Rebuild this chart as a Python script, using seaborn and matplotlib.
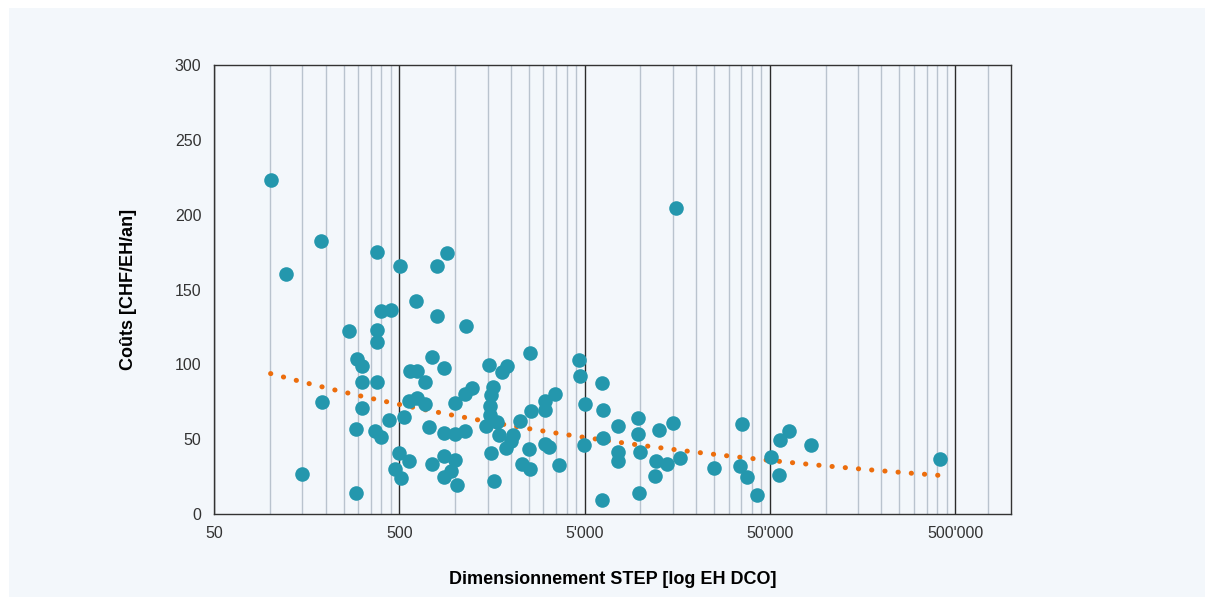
import numpy as np
import pandas as pd
import matplotlib
matplotlib.use("Agg")
import matplotlib.pyplot as plt
import matplotlib.ticker as mticker
from matplotlib.patches import Rectangle
import seaborn as sns

# plant size [EH DCO] and annual cost [CHF/EH/an]
size_eh = [
    101, 123, 149, 189, 191, 268, 297, 292, 292, 316, 316, 316,
    379, 379, 379, 379, 369, 398, 398, 453, 441, 504, 500, 472,
    511, 532, 566, 573, 620, 618, 561, 623, 689, 689, 752, 720,
    752, 800, 909, 800, 867, 867, 876, 952, 876, 1023, 1002, 1005,
    996, 1152, 1138, 1237, 1138, 1516, 1782, 1909, 1603, 1568, 1535, 1544,
    1473, 1685, 1728, 1873, 1568, 1627, 2536, 2044, 1994, 2250, 2558, 3045,
    3045, 3479, 2504, 2295, 2549, 3045, 3213, 3634, 4651, 4751, 6216, 5044,
    6271, 7561, 9705, 9705, 12600, 14953, 4969, 6271, 7561, 7561, 9985, 12170,
    13838, 11918, 6216, 9884, 16372, 24860, 15632, 35317, 34276, 37824, 42571, 50565,
    56211, 56912, 63433, 83049, 414180,
]
cost_chf = [
    223.2, 160.2, 26.7, 182.6, 74.8, 122.5, 103.6, 56.8, 14.0, 98.9, 88.2, 71.0,
    175.3, 123.1, 114.9, 88.2, 55.5, 135.6, 51.4, 136.3, 62.8, 165.7, 40.8, 30.1,
    24.1, 65.1, 35.4, 95.5, 95.5, 142.6, 75.2, 77.5, 88.2, 73.2, 105.1, 58.3,
    33.4, 165.8, 174.1, 132.3, 97.4, 54.1, 38.8, 28.9, 24.4, 19.4, 53.5, 36.4,
    74.2, 125.7, 80.2, 83.9, 55.7, 99.4, 94.9, 98.8, 85.1, 79.3, 72.3, 66.1,
    58.5, 61.3, 52.8, 44.0, 40.6, 22.2, 107.4, 53.1, 48.8, 62.3, 69.0, 75.6,
    69.7, 80.5, 43.4, 33.2, 29.9, 47.0, 45.0, 32.6, 102.9, 92.4, 87.3, 73.7,
    69.2, 58.6, 63.9, 53.7, 55.8, 61.0, 45.9, 50.6, 41.4, 35.4, 41.2, 35.4,
    33.4, 25.7, 9.4, 14.0, 37.6, 30.5, 204.5, 60.1, 32.1, 24.5, 12.4, 37.9,
    26.2, 49.6, 55.6, 46.0, 36.5,
]

x_ticks = [50, 500, 5000, 50000, 500000]
x_extra_grid = [750000]
y_ticks = [0, 50, 100, 150, 200, 250, 300]
x_label = "Dimensionnement STEP [log EH DCO]"
y_label = "Coûts [CHF/EH/an]"

df = pd.DataFrame({"size": size_eh, "cost": cost_chf})

# power-law trend line (least squares in log-log space)
b, ln_a = np.polyfit(np.log(df["size"]), np.log(df["cost"]), 1)
trend_x = np.geomspace(df["size"].min(), df["size"].max(), 300)
trend = pd.DataFrame({"size": trend_x, "cost": np.exp(ln_a) * trend_x ** b})

sns.set_theme(style="white")
plt.rcParams["font.family"] = ["Liberation Sans", "DejaVu Sans"]

panel = "#f3f7fb"
fig = plt.figure(figsize=(12.14, 6.05), dpi=100, facecolor="white")
fig.patches.append(Rectangle((9 / 1214, 8 / 605), 1196 / 1214, 589 / 605,
                             transform=fig.transFigure, facecolor=panel,
                             edgecolor="none", zorder=-10))
ax = fig.add_axes([214 / 1214, 1 - 514 / 605, 797 / 1214, 449 / 605])
ax.set_facecolor(panel)

sns.lineplot(data=trend, x="size", y="cost", ax=ax, color="#ec6d0c",
             lw=3.6, dashes=False, zorder=2)
ax.lines[-1].set_linestyle((0, (0.05, 2.6)))
ax.lines[-1].set_dash_capstyle("round")
sns.scatterplot(data=df, x="size", y="cost", ax=ax, color="#2497ad",
                s=110, linewidth=0, zorder=3)

ax.set_xscale("log")
ax.set_xlim(50, 1_000_000)
ax.set_ylim(0, 300)
minor = [m * 10 ** e for e in range(1, 6) for m in np.arange(1, 5, 0.5)]
ax.xaxis.set_major_locator(mticker.FixedLocator(x_ticks))
ax.xaxis.set_minor_locator(mticker.FixedLocator(minor + x_extra_grid))
ax.xaxis.set_major_formatter(mticker.FuncFormatter(
    lambda v, _: f"{v:,.0f}".replace(",", "'")))
ax.xaxis.set_minor_formatter(mticker.NullFormatter())
ax.set_yticks(y_ticks)

ax.grid(which="minor", axis="x", color="#b9c3ce", lw=1)
ax.grid(which="major", axis="x", color="#2b2b2b", lw=1)
ax.grid(which="major", axis="y", visible=False)
ax.set_axisbelow(True)

for s in ax.spines.values():
    s.set_visible(True)
    s.set_color("#333333")
    s.set_linewidth(1)
ax.tick_params(axis="both", which="both", length=0, labelsize=11.5,
               colors="#333333")
ax.tick_params(axis="x", pad=9)
ax.tick_params(axis="y", pad=9)

ax.set_xlabel(x_label, fontsize=13, fontweight="bold", labelpad=21, color="black")
ax.set_ylabel(y_label, fontsize=13, fontweight="bold", labelpad=27, color="black")

fig.savefig("out.png", dpi=100, facecolor="white")
